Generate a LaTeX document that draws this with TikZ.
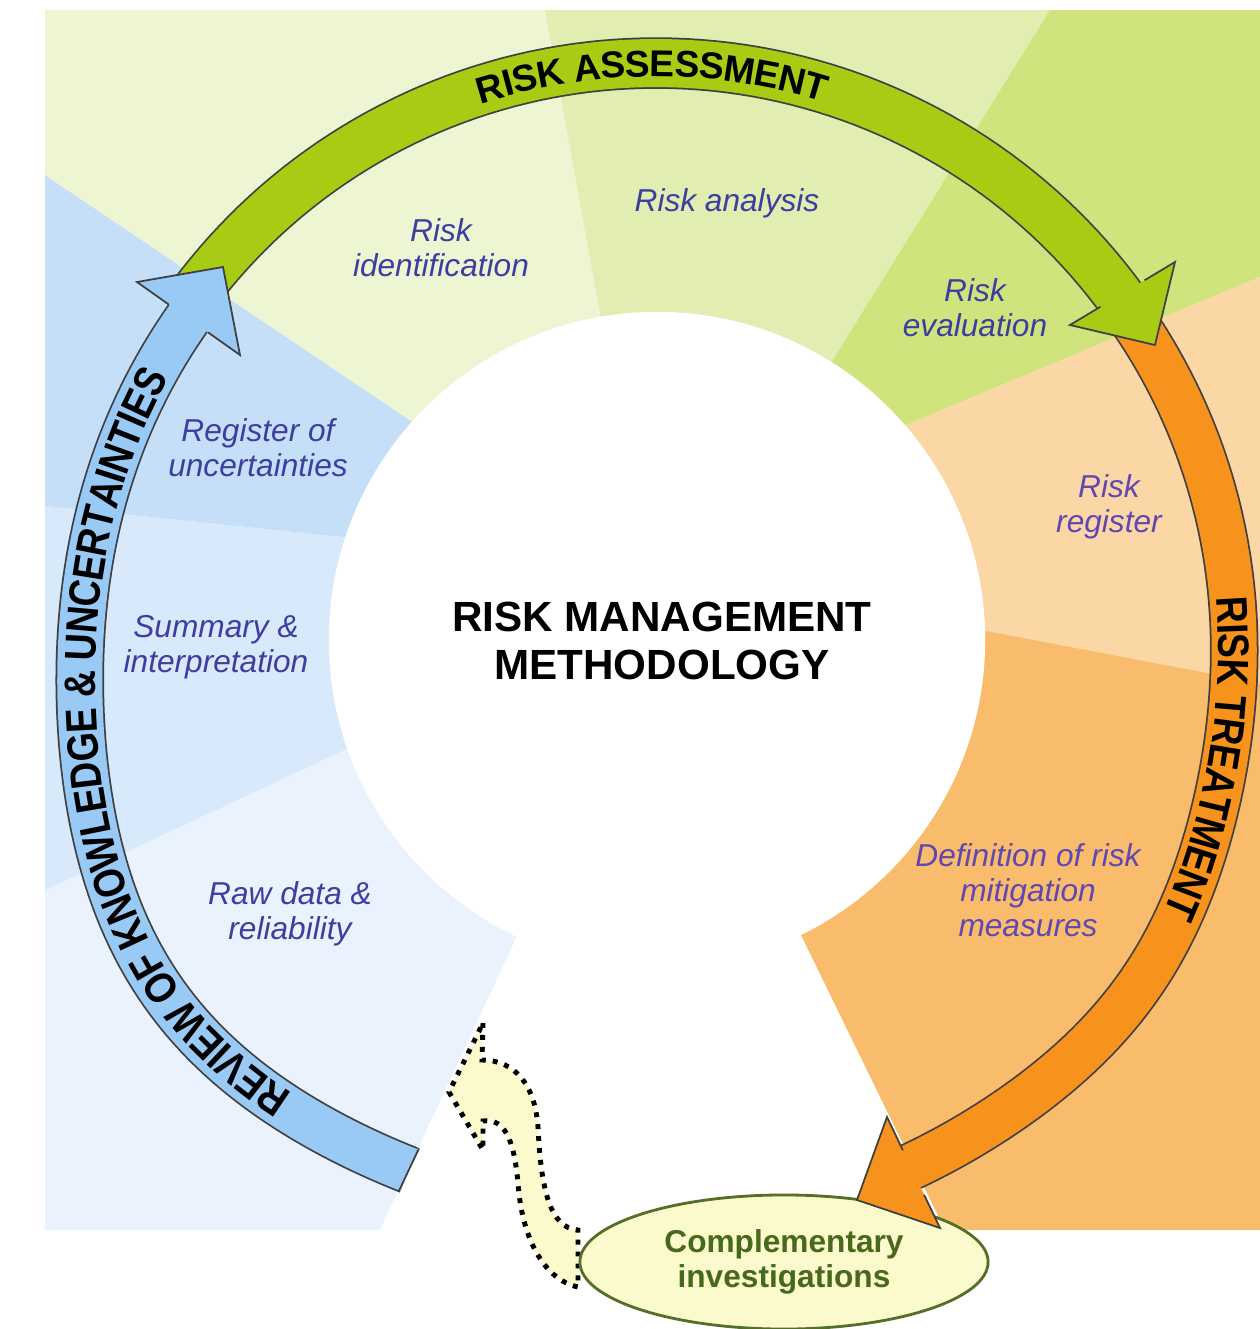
\documentclass[tikz,border=0pt]{standalone}
\usepackage{fontspec}
\setmainfont{Liberation Sans}
\newfontfamily\condfont[FakeStretch=0.85]{Liberation Sans}
\usepackage{xcolor}
\usepackage{tikz}
\usetikzlibrary{shapes.geometric, decorations.text, calc}

\definecolor{rawblue}{RGB}{233,242,253}
\definecolor{sumblue}{RGB}{215,233,251}
\definecolor{regblue}{RGB}{197,223,249}
\definecolor{identgreen}{RGB}{238,245,210}
\definecolor{anagreen}{RGB}{225,237,177}
\definecolor{evalgreen}{RGB}{208,228,125}
\definecolor{regorange}{RGB}{251,215,166}
\definecolor{mitorange}{RGB}{249,187,108}
\definecolor{arrowgreen}{RGB}{168,204,20}
\definecolor{arrowblue}{RGB}{153,201,245}
\definecolor{arroworange}{RGB}{247,146,28}
\definecolor{labelblue}{RGB}{62,62,160}
\definecolor{labelpurple}{RGB}{95,72,178}
\definecolor{ovalfill}{RGB}{250,250,205}
\definecolor{ovaldraw}{RGB}{85,110,40}
\definecolor{ovaltext}{RGB}{72,104,28}

\begin{document}
\begin{tikzpicture}[
    x=0.01cm, y=-0.01cm,
    steptext/.style={font=\fontsize{9}{10}\selectfont\itshape, text=labelblue, align=center},
    band/.style={draw=black!75, line width=0.5pt, double distance=0.45cm},
    headline/.style={draw=black!75, line width=0.5pt, line join=miter},
    oval/.style={ellipse, draw=ovaldraw, fill=ovalfill, line width=0.8pt, minimum width=4.08cm, minimum height=1.34cm, align=center, text=ovaltext, font=\fontsize{9}{10}\selectfont\bfseries}
]
\useasboundingbox (0,0) rectangle (1260,1329);

% Background sectors
\fill[rawblue] (657,640) -- (400,724) -- (45,890) -- (45,1230) -- (380,1230) -- cycle;
\fill[sumblue] (657,640) -- (400,724) -- (45,890) -- (45,506) -- (400,543) -- cycle;
\fill[regblue] (657,640) -- (400,543) -- (45,506) -- (45,175) -- (450,447) -- cycle;
\fill[identgreen] (657,640) -- (450,447) -- (45,175) -- (45,10) -- (545,10) -- (612,380) -- cycle;
\fill[anagreen] (657,640) -- (612,380) -- (545,10) -- (1050,10) -- (808,400) -- cycle;
\fill[evalgreen] (657,640) -- (808,400) -- (1050,10) -- (1260,10) -- (1260,277) -- (880,436) -- cycle;
\fill[regorange] (657,640) -- (880,436) -- (1260,277) -- (1260,683) -- (950,624) -- cycle;
\fill[mitorange] (657,640) -- (950,624) -- (1260,683) -- (1260,1230) -- (945,1230) -- cycle;

% White centre
\fill[white] (657,640) circle[radius=3.28cm];
\fill[white] (520,930) -- (380,1230) -- (945,1230) -- (795,930) -- cycle;

% Step labels
\node[steptext] (ident) at (441,248) {Risk\\identification};
\node[steptext] (analysis) at (727,203) {Risk analysis};
\node[steptext] (evaluation) at (975,308) {Risk\\evaluation};
\node[steptext] (register) at (258,448) {Register of\\uncertainties};
\node[steptext] (summary) at (216,647) {Summary \&\\interpretation};
\node[steptext] (rawdata) at (290,914) {Raw data \&\\reliability};
\node[steptext, text=labelpurple] (riskreg) at (1109,507) {Risk\\register};
\node[steptext, text=labelpurple] (mitigation) at (1028,890) {Definition of risk\\mitigation\\measures};
\node[font=\fontsize{12}{13.4}\selectfont\bfseries, align=center] (title) at (662,641) {RISK MANAGEMENT\\METHODOLOGY};

% Dotted return arrow
\filldraw[fill=ovalfill, draw=black, dotted, line width=1.4pt]
  (483,1023) -- (482,1060)
  .. controls (515,1060) and (535,1085) .. (538,1127)
  .. controls (541,1190) and (550,1228) .. (578,1230)
  -- (578,1287)
  .. controls (545,1280) and (522,1240) .. (518,1183)
  .. controls (514,1140) and (505,1118) .. (483,1121)
  -- (483,1150) -- (449,1092) -- cycle;

% Complementary investigations
\node[oval] (compl) at (784,1262) {Complementary\\investigations};

% Risk treatment band
\draw[band, double=arroworange, postaction={decorate, decoration={text along path,
    text={|\condfont\bfseries\fontsize{12.5}{14}\selectfont|RISK TREATMENT},
    text align={left indent=86pt}, raise=-4.5pt}}]
  plot[domain=35:-65, samples=100] ({656+(578+12*exp(-((\x+35)/18)^2))*cos(\x)}, {647-(578+12*exp(-((\x+35)/18)^2))*sin(\x)});

% Risk assessment band and head
\draw[band, double=arrowgreen, double distance=0.48cm]
  plot[domain=143.5:34.5, samples=80] ({656+577*cos(\x)}, {640-577*sin(\x)});
\path[decorate, decoration={text along path,
    text={|\bfseries\fontsize{10.6}{12}\selectfont|RISK ASSESSMENT},
    text align=center, raise=-3.8pt}]
  plot[domain=135:45.8, samples=80] ({656+577*cos(\x)}, {640-577*sin(\x)});
\coordinate (ab1) at (1070,325); \coordinate (atip) at (1155,345); \coordinate (ab2) at (1175,262);
\fill[arrowgreen] (ab1) -- (atip) -- (ab2) -- cycle;
\draw[headline] ($(ab1)!0.29!(ab2)$) -- (ab1) -- (atip) -- (ab2) -- ($(ab1)!0.71!(ab2)$);

% Review band and head
\draw[band, double=arrowblue, postaction={decorate, decoration={text along path,
    text={|\condfont\bfseries\fontsize{12.5}{14}\selectfont|REVIEW OF KNOWLEDGE {\&} UNCERTAINTIES},
    text align={left indent=40pt}, raise=-4.5pt}}]
  plot[domain=244.7:143.8, samples=100] ({656+(572+30*exp(-((\x-215)/24)^2))*cos(\x)}, {647-(572+30*exp(-((\x-215)/24)^2))*sin(\x)});
\draw[headline] ({656+554.5*cos(244.7)}, {647-554.5*sin(244.7)}) -- ({656+602.5*cos(244.7)}, {647-602.5*sin(244.7)});
\coordinate (rb1) at (137,282); \coordinate (rtip) at (223,267); \coordinate (rb2) at (240,355);
\fill[arrowblue] (rb1) -- (rtip) -- (rb2) -- cycle;
\draw[headline] ($(rb1)!0.31!(rb2)$) -- (rb1) -- (rtip) -- (rb2) -- ($(rb1)!0.69!(rb2)$);

% Risk treatment head
\coordinate (tb1) at (887,1117); \coordinate (ttip) at (857,1200); \coordinate (tb2) at (940,1228);
\fill[arroworange] (tb1) -- (ttip) -- (tb2) -- cycle;
\draw[headline] ($(tb1)!0.3!(tb2)$) -- (tb1) -- (ttip) -- (tb2) -- ($(tb1)!0.7!(tb2)$);

\end{tikzpicture}
\end{document}
